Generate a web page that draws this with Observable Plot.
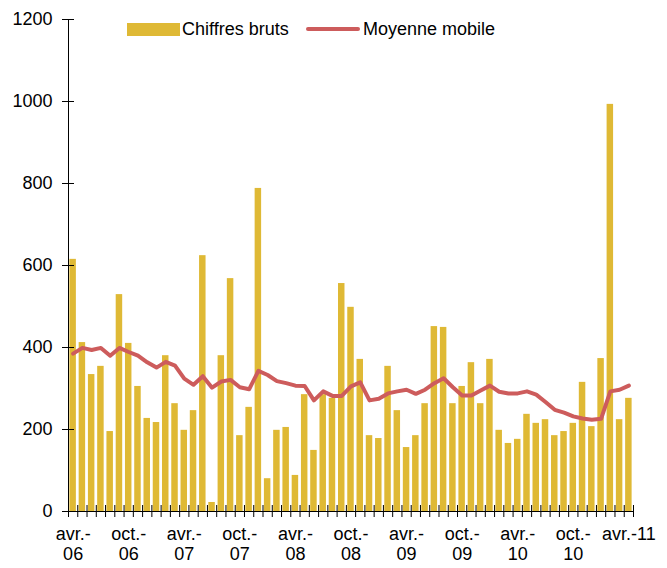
<!DOCTYPE html>
<html>
<head>
<meta charset="utf-8">
<script src="https://cdn.jsdelivr.net/npm/d3@7"></script>
<script src="https://cdn.jsdelivr.net/npm/@observablehq/plot@0.6"></script>
<style>
  body { margin: 0; background: #fff; font-family: "Liberation Sans", Arial, sans-serif; }
  #wrap { position: relative; width: 667px; height: 568px; overflow: hidden; }
  #wrap svg { position: absolute; left: 0; top: 0; }
  .lg { position: absolute; font-size: 18px; line-height: 20px; color: #000; white-space: nowrap; }
  .sw { position: absolute; }
</style>
</head>
<body>
<div id="wrap">
  <div id="chart"></div>
  <div class="sw" id="sw1" style="left:127px; top:23px; width:53px; height:13px;"></div>
  <div class="lg" style="left:182px; top:19px;">Chiffres bruts</div>
  <div class="sw" id="sw2" style="left:306px; top:27px; width:54px; height:4px; border-radius:2px;"></div>
  <div class="lg" style="left:363px; top:19px;">Moyenne mobile</div>
</div>
<script>
const barColor = "#dfb935";
const lineColor = "#cd5c5c";

const months = [
  "2006-04","2006-05","2006-06","2006-07","2006-08","2006-09","2006-10","2006-11","2006-12",
  "2007-01","2007-02","2007-03","2007-04","2007-05","2007-06","2007-07","2007-08","2007-09","2007-10","2007-11","2007-12",
  "2008-01","2008-02","2008-03","2008-04","2008-05","2008-06","2008-07","2008-08","2008-09","2008-10","2008-11","2008-12",
  "2009-01","2009-02","2009-03","2009-04","2009-05","2009-06","2009-07","2009-08","2009-09","2009-10","2009-11","2009-12",
  "2010-01","2010-02","2010-03","2010-04","2010-05","2010-06","2010-07","2010-08","2010-09","2010-10","2010-11","2010-12",
  "2011-01","2011-02","2011-03","2011-04"
];

const chiffresBruts = [
  615,412,334,354,195,529,410,305,227,217,
  380,263,198,246,624,22,380,568,185,254,
  788,80,198,205,88,285,149,285,276,556,
  498,371,185,178,354,246,156,185,263,451,
  449,263,305,363,263,371,198,166,176,237,
  215,224,185,195,215,315,207,373,993,224,276
];

const moyenneMobile = [
  385,399,394,399,380,399,389,380,364,351,
  365,356,324,309,330,302,317,321,303,298,
  343,333,318,313,307,306,271,293,282,282,
  305,315,271,275,288,293,297,287,297,313,
  325,303,283,283,295,307,292,288,288,293,
  285,267,248,241,232,227,224,226,293,297,307
];

const tickMonths = ["2006-04","2006-10","2007-04","2007-10","2008-04","2008-10","2009-04","2009-10","2010-04","2010-10","2011-04"];
const tickLabels = ["avr.-\n06","oct.-\n06","avr.-\n07","oct.-\n07","avr.-\n08","oct.-\n08","avr.-\n09","oct.-\n09","avr.-\n10","oct.-\n10","avr.-11"];
const yTicks = [0,200,400,600,800,1000,1200];

document.getElementById("sw1").style.background = barColor;
document.getElementById("sw2").style.background = lineColor;

const data = months.map((m, i) => ({month: m, raw: chiffresBruts[i], avg: moyenneMobile[i]}));
const labelOf = new Map(tickMonths.map((m, i) => [m, tickLabels[i]]));

const W = 667, H = 568, mL = 68, mR = 34, mT = 19, mB = 57;
const xOpts = {type: "band", domain: months, paddingInner: 0.3, paddingOuter: 0.15, align: 0.5, round: false, label: null};
const step = Plot.scale({x: {...xOpts, range: [mL, W - mR]}}).step;

const chart = Plot.plot({
  width: W, height: H,
  marginLeft: mL, marginRight: mR, marginTop: mT, marginBottom: mB,
  style: {fontFamily: '"Liberation Sans", Arial, sans-serif', fontSize: "18px", color: "#000", background: "transparent"},
  x: xOpts,
  y: {domain: [0, 1200], label: null},
  marks: [
    Plot.barY(data, {x: "month", y: "raw", fill: barColor}),
    Plot.lineY(data, {x: "month", y: "avg", stroke: lineColor, strokeWidth: 4, strokeLinejoin: "round", strokeLinecap: "round"}),
    Plot.ruleY([0], {stroke: "#000", strokeWidth: 1}),
    Plot.ruleX([months[0]], {stroke: "#000", strokeWidth: 1, dx: -step / 2}),
    Plot.axisX({ticks: months, text: null, tickSize: 12, dy: -6, dx: -step / 2, label: null}),
    Plot.axisX({ticks: [months[months.length - 1]], text: null, tickSize: 12, dy: -6, dx: step / 2, label: null}),
    Plot.axisX({ticks: tickMonths, tickSize: 0, tickPadding: 14, tickFormat: m => labelOf.get(m), lineHeight: 1.12, label: null}),
    Plot.axisY({ticks: yTicks, text: null, tickSize: 12, dx: 6, label: null}),
    Plot.axisY({ticks: yTicks, tickSize: 0, tickPadding: 16, tickFormat: d => String(d), label: null})
  ]
});
document.getElementById("chart").appendChild(chart);
</script>
</body>
</html>
